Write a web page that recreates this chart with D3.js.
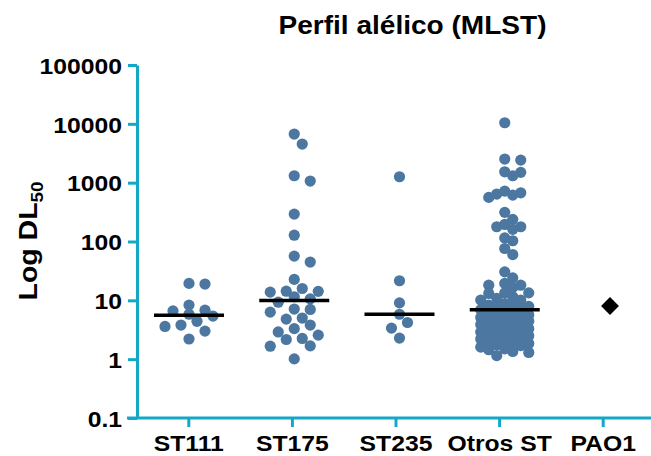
<!DOCTYPE html>
<html>
<head>
<meta charset="utf-8">
<script src="https://cdn.jsdelivr.net/npm/d3@7"></script>
<style>
  html, body { margin: 0; padding: 0; background: #fff; }
  svg { display: block; }
</style>
</head>
<body>
<svg id="chart" width="651" height="456"></svg>
<script>
// Group names on the x axis
const categories = ["ST111", "ST175", "ST235", "Otros ST", "PAO1"];

// LD50 values per isolate, grouped by sequence type
const st111 = [19.4, 18.9, 8.3, 6.8, 6.6, 5.8, 5.4, 4.4, 3.8, 3.6, 3.0, 2.2];
const st175 = [6710, 4530, 1310, 1065, 292, 128, 56.5, 44.7, 22.7, 15.9, 14.3, 14.2, 13.8,
               11.5, 10.6, 9.3, 7.1, 7.0, 6.3, 5.0, 4.8, 3.8, 3.3, 2.9, 2.56, 2.25, 2.16,
               1.68, 1.66, 1.01];
const st235 = [1260, 21.5, 9.06, 5.8, 4.2, 3.37, 2.28];
const otrosST = [10440, 2520, 2420, 1530, 1497, 1310, 719, 673, 640, 615, 562, 313, 238,
                 195, 178, 178, 161, 115, 103, 76, 60, 30.5, 24.1, 18.1,
                 19.4, 18.1, 16.6, 13.4, 13.4, 13.1, 11.5, 10.8, 10.1, 10.1, 8.8, 8.3,
                 7.95, 7.9, 7.4, 7.2, 6.9,
                 6.2, 6.0, 5.9, 5.7, 5.5, 5.3, 5.1, 5.0, 4.8, 4.6, 4.4, 4.3, 4.1, 3.9,
                 3.8, 3.6, 3.5, 3.3, 3.2, 3.0, 2.9, 2.8, 2.7, 2.6, 2.5, 2.4, 2.3, 2.2,
                 2.1, 2.0, 1.95, 1.85, 1.75, 1.7, 1.6, 1.5, 1.45, 1.35, 1.3, 1.15];
const pao1 = [8.0];

// Y axis ticks
const yTicks = [0.1, 1, 10, 100, 1000, 10000, 100000];
const yTickLabels = ["0.1", "1", "10", "100", "1000", "10000", "100000"];

const title = "Perfil alélico (MLST)";

const groups = [
  { name: "ST111", values: st111 },
  { name: "ST175", values: st175 },
  { name: "ST235", values: st235 },
  { name: "Otros ST", values: otrosST }
];

const FONT = "'Liberation Sans', Arial, Helvetica, sans-serif";
const axisColor = "#14a8c6";
const dotColor = "#4b77a0";

const svg = d3.select("#chart");

const y = d3.scaleLog().domain([0.1, 100000]).range([418, 65]);
const xTick = d3.scalePoint().domain(categories).range([188.3, 602.7]);
const xMark = d3.scalePoint().domain(categories).range([189, 610]);
const axisX = 137;

// Title
svg.append("text")
  .attr("transform", "translate(412.5,34) scale(1.1,1)")
  .attr("text-anchor", "middle")
  .attr("font-family", FONT).attr("font-weight", "bold").attr("font-size", 25.5)
  .text(title);

// Y axis title with subscript
const yl = svg.append("text")
  .attr("transform", "translate(37,241) rotate(-90) scale(1.14,1)")
  .attr("text-anchor", "middle")
  .attr("font-family", FONT).attr("font-weight", "bold").attr("font-size", 25);
yl.append("tspan").text("Log DL");
yl.append("tspan").attr("dy", 6.3).attr("font-size", 16.5).text("50");

// Y axis
const yAxis = svg.append("g")
  .attr("transform", `translate(${axisX},0)`)
  .call(d3.axisLeft(y).tickValues(yTicks).tickSize(9).tickSizeOuter(0)
        .tickFormat((d, i) => yTickLabels[i]));
yAxis.attr("font-family", FONT).attr("font-size", 21.5).attr("font-weight", "bold");
yAxis.select(".domain").attr("stroke", axisColor).attr("stroke-width", 3);
yAxis.selectAll(".tick line").attr("stroke", axisColor).attr("stroke-width", 3);
yAxis.selectAll(".tick text")
  .attr("x", null).attr("dy", null)
  .attr("transform", "translate(-15,8.3) scale(1.15,1)")
  .attr("text-anchor", "end")
  .attr("fill", "#000");

// X axis
const xAxis = svg.append("g")
  .attr("transform", `translate(0,${y(0.1)})`)
  .call(d3.axisBottom(xTick).tickSize(9).tickSizeOuter(0));
xAxis.attr("font-family", FONT).attr("font-size", 21.5).attr("font-weight", "bold");
xAxis.select(".domain").remove();
xAxis.insert("line", ":first-child")
  .attr("x1", axisX - 10).attr("x2", 651)
  .attr("stroke", axisColor).attr("stroke-width", 3);
xAxis.selectAll(".tick line").attr("stroke", axisColor).attr("stroke-width", 3);
xAxis.selectAll(".tick text")
  .attr("y", null).attr("dy", null)
  .attr("transform", "translate(0,32.5) scale(1.15,1)")
  .attr("text-anchor", "middle")
  .attr("fill", "#000");

// Scatter layout: points spread sideways in fixed steps; crowded groups pack tighter
function swarm(values, cx) {
  const step = 8, maxK = 3;
  const minDist = values.length > 50 ? 8.2 : 10.5;
  const offsets = [0];
  for (let k = 1; k <= maxK; k++) offsets.push(k * step, -k * step);
  const pts = values.map(v => ({ v, y: y(v) })).sort((a, b) => a.y - b.y);
  const placed = [];
  for (const p of pts) {
    let best = cx, bestD = -1;
    for (const o of offsets) {
      const x = cx + o;
      let dmin = Infinity;
      for (const q of placed) dmin = Math.min(dmin, Math.hypot(q.x - x, q.y - p.y));
      if (dmin >= minDist) { best = x; break; }
      if (dmin > bestD) { bestD = dmin; best = x; }
    }
    p.x = best;
    placed.push(p);
  }
  return placed;
}

groups.forEach(g => {
  const cx = xMark(g.name);
  const pts = swarm(g.values, cx);
  svg.append("g").selectAll("circle").data(pts).join("circle")
    .attr("cx", d => d.x).attr("cy", d => d.y).attr("r", 5.6)
    .attr("fill", dotColor);
  const med = d3.median(g.values);
  svg.append("line")
    .attr("x1", cx - 35).attr("x2", cx + 35)
    .attr("y1", y(med)).attr("y2", y(med))
    .attr("stroke", "#000").attr("stroke-width", 3.5);
});

// Reference strain
svg.append("g").selectAll("path").data(pao1).join("path")
  .attr("d", d3.symbol(d3.symbolSquare, 160))
  .attr("transform", d => `translate(${xMark("PAO1")},${y(d)}) rotate(45)`)
  .attr("fill", "#000");
</script>
</body>
</html>
